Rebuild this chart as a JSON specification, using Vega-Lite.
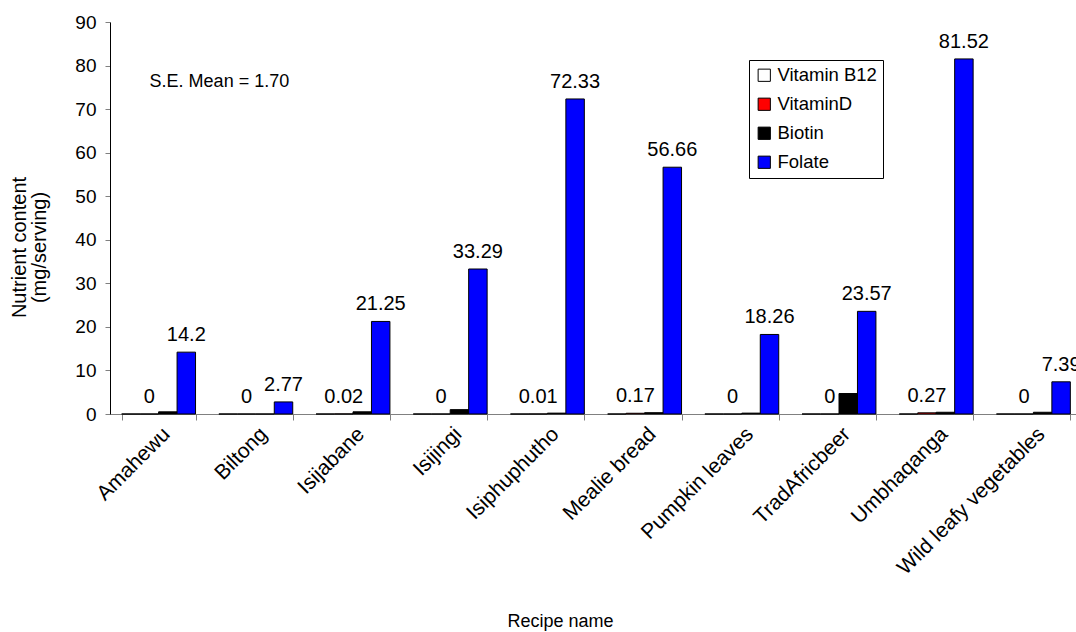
{
  "$schema": "https://vega.github.io/schema/vega-lite/v6.json",
  "width": 972,
  "height": 392,
  "autosize": "none",
  "padding": {"left": 110, "top": 22, "right": -6, "bottom": 218},
  "background": "white",
  "config": {
    "font": "Liberation Sans",
    "view": {"stroke": null},
    "axis": {"labelColor": "black", "titleColor": "black", "titleFontWeight": "normal", "grid": false}
  },
  "datasets": {
    "nutrients": [
      {"recipe": "Amahewu", "nutrient": "Vitamin B12", "value": 0},
      {"recipe": "Amahewu", "nutrient": "VitaminD", "value": 0},
      {"recipe": "Amahewu", "nutrient": "Biotin", "value": 0.5},
      {"recipe": "Amahewu", "nutrient": "Folate", "value": 14.2},
      {"recipe": "Biltong", "nutrient": "Vitamin B12", "value": 0},
      {"recipe": "Biltong", "nutrient": "VitaminD", "value": 0},
      {"recipe": "Biltong", "nutrient": "Biotin", "value": 0},
      {"recipe": "Biltong", "nutrient": "Folate", "value": 2.77},
      {"recipe": "Isijabane", "nutrient": "Vitamin B12", "value": 0},
      {"recipe": "Isijabane", "nutrient": "VitaminD", "value": 0.02},
      {"recipe": "Isijabane", "nutrient": "Biotin", "value": 0.5},
      {"recipe": "Isijabane", "nutrient": "Folate", "value": 21.25},
      {"recipe": "Isijingi", "nutrient": "Vitamin B12", "value": 0},
      {"recipe": "Isijingi", "nutrient": "VitaminD", "value": 0},
      {"recipe": "Isijingi", "nutrient": "Biotin", "value": 1.0},
      {"recipe": "Isijingi", "nutrient": "Folate", "value": 33.29},
      {"recipe": "Isiphuphutho", "nutrient": "Vitamin B12", "value": 0},
      {"recipe": "Isiphuphutho", "nutrient": "VitaminD", "value": 0.01},
      {"recipe": "Isiphuphutho", "nutrient": "Biotin", "value": 0.2},
      {"recipe": "Isiphuphutho", "nutrient": "Folate", "value": 72.33},
      {"recipe": "Mealie bread", "nutrient": "Vitamin B12", "value": 0},
      {"recipe": "Mealie bread", "nutrient": "VitaminD", "value": 0.17},
      {"recipe": "Mealie bread", "nutrient": "Biotin", "value": 0.3},
      {"recipe": "Mealie bread", "nutrient": "Folate", "value": 56.66},
      {"recipe": "Pumpkin leaves", "nutrient": "Vitamin B12", "value": 0},
      {"recipe": "Pumpkin leaves", "nutrient": "VitaminD", "value": 0},
      {"recipe": "Pumpkin leaves", "nutrient": "Biotin", "value": 0.2},
      {"recipe": "Pumpkin leaves", "nutrient": "Folate", "value": 18.26},
      {"recipe": "TradAfricbeer", "nutrient": "Vitamin B12", "value": 0},
      {"recipe": "TradAfricbeer", "nutrient": "VitaminD", "value": 0},
      {"recipe": "TradAfricbeer", "nutrient": "Biotin", "value": 4.7},
      {"recipe": "TradAfricbeer", "nutrient": "Folate", "value": 23.57},
      {"recipe": "Umbhaqanga", "nutrient": "Vitamin B12", "value": 0},
      {"recipe": "Umbhaqanga", "nutrient": "VitaminD", "value": 0.27},
      {"recipe": "Umbhaqanga", "nutrient": "Biotin", "value": 0.4},
      {"recipe": "Umbhaqanga", "nutrient": "Folate", "value": 81.52},
      {"recipe": "Wild leafy vegetables", "nutrient": "Vitamin B12", "value": 0},
      {"recipe": "Wild leafy vegetables", "nutrient": "VitaminD", "value": 0},
      {"recipe": "Wild leafy vegetables", "nutrient": "Biotin", "value": 0.4},
      {"recipe": "Wild leafy vegetables", "nutrient": "Folate", "value": 7.39}
    ],
    "note": [{"note": "S.E. Mean = 1.70", "recipe": "Amahewu", "y": 76.3}]
  },
  "layer": [
    {
      "data": {"name": "nutrients"},
      "mark": {"type": "bar", "stroke": "black", "strokeWidth": 1},
      "encoding": {
        "x": {
          "field": "recipe", "type": "nominal", "sort": null,
          "scale": {"paddingInner": 0.24, "paddingOuter": 0.12},
          "axis": {
            "title": "Recipe name", "titleFontSize": 18, "titleX": 450, "titleY": 207, "titleBaseline": "middle",
            "labelAngle": -45, "labelFontSize": 21, "labelPadding": 3, "labelLimit": 0,
            "tickBand": "extent", "tickSize": 6, "tickColor": "#808080", "domainColor": "#808080"
          }
        },
        "y": {
          "field": "value", "type": "quantitative",
          "scale": {"domain": [0, 90], "nice": false},
          "axis": {
            "title": ["Nutrient content", "(mg/serving)"], "titleFontSize": 20, "titlePadding": 25, "titleLineHeight": 20, "titleY": 225,
            "values": [0, 10, 20, 30, 40, 50, 60, 70, 80, 90],
            "labelFontSize": 19, "labelPadding": 9, "tickSize": 5, "tickColor": "#808080", "domainColor": "black"
          }
        },
        "xOffset": {"field": "nutrient", "type": "nominal", "sort": ["Vitamin B12", "VitaminD", "Biotin", "Folate"]},
        "color": {
          "field": "nutrient", "type": "nominal",
          "scale": {"domain": ["Vitamin B12", "VitaminD", "Biotin", "Folate"], "range": ["white", "#FF0000", "black", "#0000FF"]},
          "legend": {
            "title": null, "orient": "none", "legendX": 639, "legendY": 38,
            "strokeColor": "black", "fillColor": "white", "padding": 6,
            "symbolType": "square", "symbolSize": 150, "symbolStrokeColor": "black", "symbolStrokeWidth": 1,
            "labelFontSize": 18.5, "labelColor": "black", "rowPadding": 10, "labelOffset": 4
          }
        }
      }
    },
    {
      "data": {"name": "nutrients"},
      "transform": [{"filter": "datum.nutrient == 'VitaminD' || datum.nutrient == 'Folate'"}],
      "mark": {"type": "text", "fontSize": 20, "baseline": "alphabetic", "dy": -11, "color": "black"},
      "encoding": {
        "x": {"field": "recipe", "type": "nominal", "sort": null},
        "y": {"field": "value", "type": "quantitative"},
        "xOffset": {"field": "nutrient", "type": "nominal", "sort": ["Vitamin B12", "VitaminD", "Biotin", "Folate"]},
        "text": {"field": "value", "type": "nominal"}
      }
    },
    {
      "data": {"name": "note"},
      "mark": {"type": "text", "fontSize": 18, "align": "left", "baseline": "middle", "dx": -9, "color": "black"},
      "encoding": {
        "x": {"field": "recipe", "type": "nominal", "sort": null},
        "y": {"field": "y", "type": "quantitative"},
        "text": {"field": "note", "type": "nominal"}
      }
    }
  ]
}
